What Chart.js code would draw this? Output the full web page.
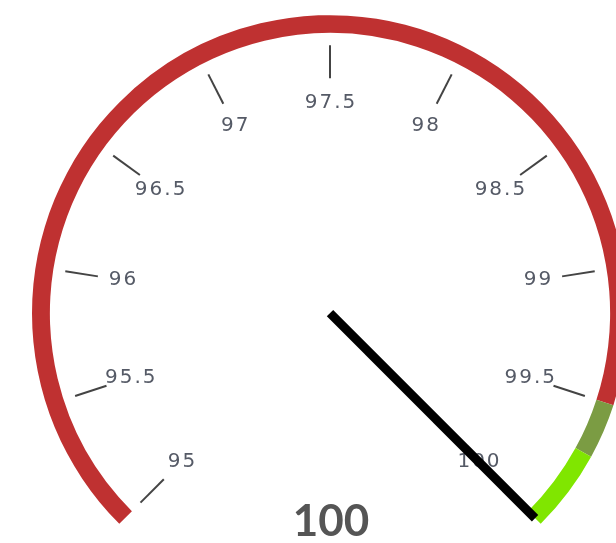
<!DOCTYPE html>
<html>
<head>
<meta charset="utf-8">
<script src="https://cdn.jsdelivr.net/npm/chart.js@4"></script>
<style>
  html, body { margin: 0; padding: 0; overflow: hidden; background: #fff; }
  #gauge { position: absolute; left: 0; top: 0; }
</style>
</head>
<body>
<canvas id="gauge" width="660" height="543"></canvas>
<script>
// gauge data
const gaugeMin = 95
const gaugeMax = 100
const gaugeValue = 100
const tickValues = [95, 95.5, 96, 96.5, 97, 97.5, 98, 98.5, 99, 99.5, 100]
const tickLabels = ['95', '95.5', '96', '96.5', '97', '97.5', '98', '98.5', '99', '99.5', '100']
const bandFrom = [95, 99.5, 99.7]
const bandTo = [99.5, 99.7, 100]
const bandColors = ['#bf3131', '#7b9c43', '#80e600']

const START_DEG = -135
const SWEEP_DEG = 270

// value -> canvas angle (radians)
const valueAngle = (v) => {
    const deg = START_DEG + (v - gaugeMin) / (gaugeMax - gaugeMin) * SWEEP_DEG
    return (deg - 90) * Math.PI / 180
}

/*===== TICKS, LABELS, NEEDLE =====*/
const gaugeDecor = {
    id: 'gaugeDecor',
    afterDatasetsDraw(chart){
        const arc = chart.getDatasetMeta(0).data[0]
        if(!arc) return
        const {x, y, outerRadius} = arc.getProps(['x', 'y', 'outerRadius'], true)
        const ctx = chart.ctx
        ctx.save()

        // ticks
        ctx.strokeStyle = '#444'
        ctx.lineWidth = 2
        tickValues.forEach(v => {
            const a = valueAngle(v)
            ctx.beginPath()
            ctx.moveTo(x + Math.cos(a) * (outerRadius - 63), y + Math.sin(a) * (outerRadius - 63))
            ctx.lineTo(x + Math.cos(a) * (outerRadius - 30), y + Math.sin(a) * (outerRadius - 30))
            ctx.stroke()
        })

        // tick labels
        ctx.fillStyle = '#555a66'
        ctx.font = '20px "DejaVu Sans"'
        ctx.letterSpacing = '2px'
        ctx.textAlign = 'center'
        ctx.textBaseline = 'middle'
        tickValues.forEach((v, i) => {
            const a = valueAngle(v)
            const r = outerRadius - 88
            ctx.fillText(tickLabels[i], x + Math.cos(a) * r + 1, y + Math.sin(a) * r)
        })
        ctx.letterSpacing = '0px'

        // needle
        const na = valueAngle(gaugeValue)
        ctx.strokeStyle = '#000'
        ctx.lineWidth = 9
        ctx.lineCap = 'butt'
        ctx.beginPath()
        ctx.moveTo(x, y)
        ctx.lineTo(x + Math.cos(na) * (outerRadius - 8), y + Math.sin(na) * (outerRadius - 8))
        ctx.stroke()

        // value label
        ctx.fillStyle = '#555'
        ctx.font = 'bold 44px Lato'
        ctx.textAlign = 'center'
        ctx.textBaseline = 'alphabetic'
        ctx.fillText(String(gaugeValue), x + 1, y + 223)

        ctx.restore()
    }
}

const ctx = document.getElementById('gauge').getContext('2d')
const gaugeChart = new Chart(ctx, {
    type: 'doughnut',
    data: {
        labels: bandFrom.map((f, i) => f + '-' + bandTo[i]),
        datasets: [{
            data: bandFrom.map((f, i) => bandTo[i] - f),
            backgroundColor: bandColors,
            borderWidth: 0
        }]
    },
    options: {
        responsive: false,
        animation: false,
        rotation: START_DEG,
        circumference: SWEEP_DEG,
        cutout: '94%',
        layout: {
            padding: {left: 32, right: 32, top: 15, bottom: 19}
        },
        plugins: {
            legend: {display: false},
            tooltip: {enabled: false}
        }
    },
    plugins: [gaugeDecor]
})
</script>
</body>
</html>
